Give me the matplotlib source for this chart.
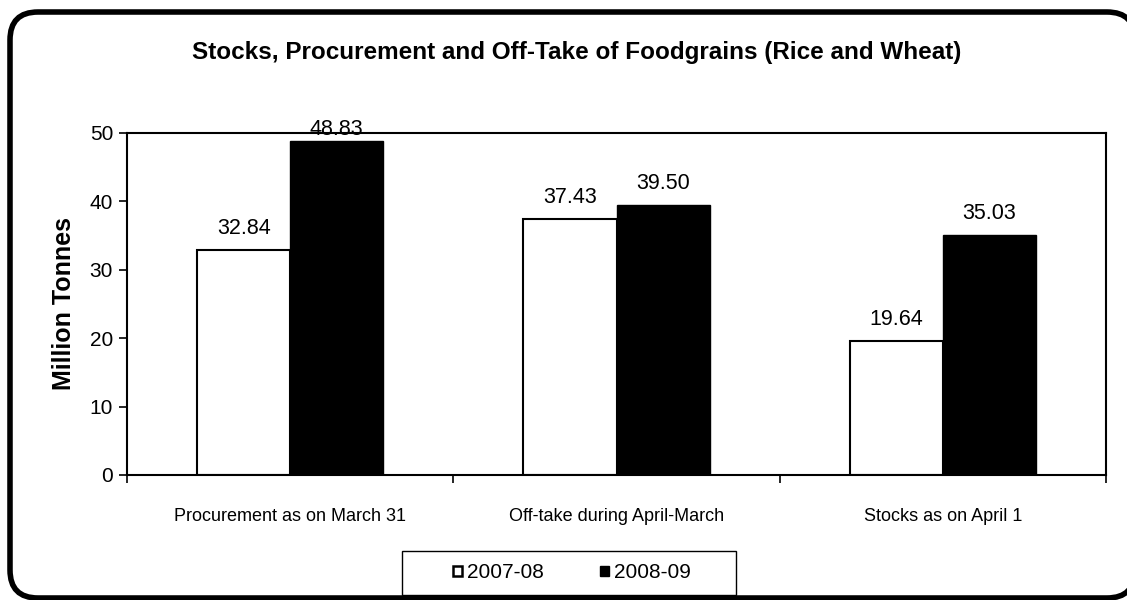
import matplotlib
matplotlib.use("Agg")
import matplotlib.pyplot as plt
import matplotlib.patches as mpatches
from matplotlib.transforms import IdentityTransform
import numpy as np

plt.rcParams['font.family'] = ['Liberation Sans', 'DejaVu Sans']

categories = ["Procurement as on March 31", "Off-take during April-March", "Stocks as on April 1"]
series_names = ["2007-08", "2008-09"]
values_2007 = [32.84, 37.43, 19.64]
values_2008 = [48.83, 39.50, 35.03]
title = "Stocks, Procurement and Off-Take of Foodgrains (Rice and Wheat)"
ylabel = "Million Tonnes"
yticks = [0, 10, 20, 30, 40, 50]

W, H = 1127, 600
fig = plt.figure(figsize=(W / 100, H / 100), dpi=100)

# outer rounded border
border = mpatches.FancyBboxPatch((10, 2), 1125, 586,
                                 boxstyle="round,pad=0,rounding_size=28",
                                 transform=IdentityTransform(),
                                 facecolor="white", edgecolor="black",
                                 linewidth=4, zorder=0)
fig.add_artist(border)

ax = fig.add_axes([127 / W, 1 - 475 / H, (1106 - 127) / W, (475 - 133) / H])
ax.set_facecolor("none")

x = np.arange(len(categories))
bw = 0.285
b1 = ax.bar(x - bw / 2, values_2007, bw, color="white", edgecolor="black", linewidth=1.5, zorder=2)
b2 = ax.bar(x + bw / 2, values_2008, bw, color="black", edgecolor="black", linewidth=1.0, zorder=2)

ymax = 50
for bars, vals in ((b1, values_2007), (b2, values_2008)):
    for r, v in zip(bars, vals):
        # labels near the top of the plot area are pushed down toward the bar
        off = 8 if v < ymax - 4 else 1
        ax.annotate(f"{v:.2f}", (r.get_x() + r.get_width() / 2, v),
                    xytext=(0, off), textcoords="offset points",
                    ha="center", va="bottom", fontsize=15.5, annotation_clip=False, zorder=3)

ax.set_xlim(-0.5, 2.5)
ax.set_ylim(0, ymax)
ax.set_yticks(yticks)
ax.set_yticklabels([str(t) for t in yticks], fontsize=15)
ax.tick_params(axis="y", direction="out", length=6, width=1.2, pad=4)

ax.set_xticks([-0.5, 0.5, 1.5, 2.5])
ax.set_xticklabels([])
ax.tick_params(axis="x", direction="out", length=6, width=1.2)
ax.set_xticks(x, minor=True)
ax.set_xticklabels(categories, minor=True, fontsize=13)
ax.tick_params(axis="x", which="minor", length=0, pad=24)

for s in ax.spines.values():
    s.set_linewidth(1.5)
    s.set_color("black")

ax.set_ylabel(ylabel, fontsize=18, fontweight="bold", labelpad=10)

fig.text(577 / W, 1 - 52 / H, title, ha="center", va="center", fontsize=17.5, fontweight="bold")

# legend box
leg_rect = mpatches.Rectangle((402 / W, 1 - 595 / H), (736 - 402) / W, (595 - 551) / H,
                              transform=fig.transFigure, facecolor="white",
                              edgecolor="black", linewidth=1.0, zorder=1)
fig.add_artist(leg_rect)
handles = [mpatches.Patch(facecolor="white", edgecolor="black", linewidth=1.8, label=series_names[0]),
           mpatches.Patch(facecolor="black", edgecolor="black", label=series_names[1])]
fig.legend(handles=handles, loc="center", bbox_to_anchor=(572 / W, 1 - 573 / H),
           ncol=2, frameon=False, fontsize=15, handlelength=0.42, handleheight=0.42,
           handletextpad=0.25, columnspacing=2.7)

fig.savefig("out.png", dpi=100)
